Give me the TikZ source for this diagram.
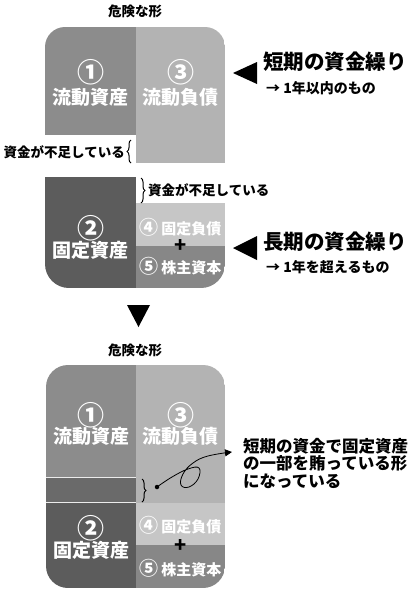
\documentclass[tikz,border=0pt]{standalone}
\usepackage{fontspec}
\setmainfont{Noto Sans CJK JP}[BoldFont={Noto Sans CJK JP Black}]
\usetikzlibrary{decorations.pathreplacing,arrows.meta}
\definecolor{cA}{HTML}{8C8C8C}
\definecolor{cB}{HTML}{B3B3B3}
\definecolor{cC}{HTML}{5C5C5C}
\definecolor{cD}{HTML}{C6C6C6}
\definecolor{cE}{HTML}{878787}
\definecolor{cF}{HTML}{6A6A6A}
\newcommand{\cnum}[1]{{\fontsize{19}{19}\selectfont #1}}
\begin{document}
\begin{tikzpicture}[x=1pt,y=-1pt,
  boxtext/.style={text=white,font=\bfseries\fontsize{19}{19}\selectfont,inner sep=0pt},
  numtext/.style={text=white,font=\bfseries\fontsize{27}{27}\selectfont,inner sep=0pt},
  smalltext/.style={text=white,font=\bfseries\fontsize{15}{15}\selectfont,inner sep=0pt},
  plustext/.style={text=black,font=\bfseries\fontsize{20}{20}\selectfont,inner sep=0pt},
  note/.style={text=black,font=\bfseries\fontsize{13.5}{13.5}\selectfont,inner sep=0pt},
  headtext/.style={text=black,font=\bfseries\fontsize{20.5}{20.5}\selectfont,inner sep=0pt},
  subtext/.style={text=black,font=\bfseries\fontsize{14}{14}\selectfont,inner sep=0pt},
  bracedeco/.style={decorate,decoration={brace,amplitude=4pt},line width=1pt}]
\useasboundingbox (0,0) rectangle (420,595);
\fill[white] (0,0) rectangle (420,595);

% ---------- Diagram 1 ----------
\node[note] (title1) at (135,11) {危険な形};
\begin{scope}
  \clip[rounded corners=20pt] (45,27) rectangle (225,260);
  \fill[cA] (45,27) rectangle (136,135);
  \fill[cB] (136,27) rectangle (225,163);
\end{scope}
\begin{scope}
  \clip[rounded corners=24pt] (45,120) rectangle (225,288);
  \fill[cC] (45,177) rectangle (136,288);
  \fill[cD] (136,203) rectangle (225,246);
  \fill[cE] (136,246) rectangle (225,288);
\end{scope}
\node[numtext] (n1) at (90.5,72) {①};
\node[boxtext] (t1) at (90.5,97) {流動資産};
\node[numtext] (n3) at (180.5,72) {③};
\node[boxtext] (t3) at (180.5,97) {流動負債};
\node[numtext] (n2) at (90.5,228) {②};
\node[boxtext] (t2) at (90.5,250) {固定資産};
\node[smalltext] (t4) at (180.5,227) {\cnum{④}\,固定負債};
\node[plustext] (p1) at (180.5,246) {+};
\node[smalltext] (t5) at (180.5,266) {\cnum{⑤}\,株主資本};

\draw[bracedeco] (131,163) -- (131,140);
\node[note,anchor=east] (lack1) at (125,152) {資金が不足している};
\draw[bracedeco] (141,178) -- (141,203);
\node[note,anchor=west] (lack2) at (148,190) {資金が不足している};

\fill (233,73) -- (257,62) -- (257,84) -- cycle;
\node[headtext,anchor=west] (short) at (263,62) {短期の資金繰り};
\node[subtext,anchor=west] (shortsub) at (266,88) {→ 1年以内のもの};
\fill (233,248) -- (257,236) -- (257,260) -- cycle;
\node[headtext,anchor=west] (long) at (263,242) {長期の資金繰り};
\node[subtext,anchor=west] (longsub) at (266,267) {→ 1年を超えるもの};

\fill (127,305) -- (150,305) -- (138.5,327) -- cycle;

% ---------- Diagram 2 ----------
\node[note] (title2) at (135,350) {危険な形};
\begin{scope}
  \clip[rounded corners=22pt] (46,365) rectangle (225,588);
  \fill[cA] (46,365) rectangle (136,477);
  \fill[cF] (46,477) rectangle (136,503);
  \fill[cC] (46,503) rectangle (136,588);
  \fill[cB] (136,365) rectangle (225,503);
  \fill[cD] (136,503) rectangle (225,545);
  \fill[cE] (136,545) rectangle (225,588);
  \draw[white!85!gray,line width=1pt] (46,477.5) -- (136,477.5);
  \draw[white!85!gray,line width=1pt] (46,502.5) -- (136,502.5);
\end{scope}
\node[numtext] (m1) at (91,415) {①};
\node[boxtext] (u1) at (91,436) {流動資産};
\node[numtext] (m3) at (180.5,415) {③};
\node[boxtext] (u3) at (180.5,436) {流動負債};
\node[numtext] (m2) at (91,528) {②};
\node[boxtext] (u2) at (91,550) {固定資産};
\node[smalltext] (u4) at (180.5,525) {\cnum{④}\,固定負債};
\node[plustext] (p2) at (180.5,546) {+};
\node[smalltext] (u5) at (180.5,568) {\cnum{⑤}\,株主資本};

\draw[bracedeco] (142,479) -- (142,502);
\node[circle,fill=black,inner sep=0pt,minimum size=4.5pt] (dot) at (157,487) {};
\node[text=black,font=\bfseries\fontsize{16.5}{17.5}\selectfont,inner sep=0pt,anchor=west,align=left]
  (expl) at (243,463) {短期の資金で固定資産\\の一部を賄っている形\\になっている};
\draw[line width=0.8pt,-{Triangle[length=7pt,width=7pt]}]
  plot[smooth,tension=0.7] coordinates {(dot) (172,477) (188,469) (199,468) (198,479) (189,487) (181,485) (183,474) (193,463) (208,456) (232,452)};
\end{tikzpicture}
\end{document}
